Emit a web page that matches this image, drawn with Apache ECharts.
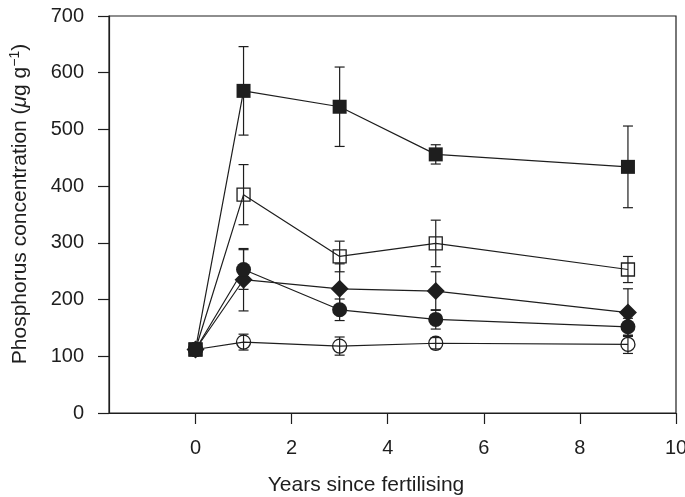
<!DOCTYPE html>
<html>
<head>
<meta charset="utf-8">
<title>Phosphorus concentration after fertilising</title>
<script src="https://cdn.jsdelivr.net/npm/echarts@6/dist/echarts.min.js"></script>
<style>
  html, body { margin: 0; padding: 0; background: #fff; }
  #chart { width: 685px; height: 497px; }
</style>
</head>
<body>
<div id="chart"></div>
<script>
// Years since fertilising at which soil P was sampled
const years = [0, 1, 3, 5, 9];

// Mean phosphorus concentration (µg g-1) per treatment, with ± error
const filledSquare    = [112, 568, 540, 456, 434];
const filledSquareErr = [0, 78, 70, 17, 72];
const openSquare      = [112, 385, 276, 299, 253];
const openSquareErr   = [0, 53, 27, 41, 23];
const filledDiamond    = [112, 235, 219, 215, 177];
const filledDiamondErr = [0, 55, 44, 34, 42];
const filledCircle    = [112, 253, 182, 165, 152];
const filledCircleErr = [0, 35, 19, 17, 15];
const openCircle      = [112, 125, 118, 123, 121];
const openCircleErr   = [0, 14, 16, 10, 16];

// Axis tick labels
const xTicks = [0, 2, 4, 6, 8, 10];
const yTicks = [0, 100, 200, 300, 400, 500, 600, 700];

const INK = '#1e1e1e';
const FONT = 'Liberation Sans, Arial, Helvetica, sans-serif';

const groups = [
  { name: 'Filled squares',  vals: filledSquare,  err: filledSquareErr,  symbol: 'rect',    size: 14, hollow: false },
  { name: 'Open squares',    vals: openSquare,    err: openSquareErr,    symbol: 'rect',    size: 13, hollow: true },
  { name: 'Open circles',    vals: openCircle,    err: openCircleErr,    symbol: 'circle',  size: 14, hollow: true },
  { name: 'Filled diamonds', vals: filledDiamond, err: filledDiamondErr, symbol: 'diamond', size: 18, hollow: false },
  { name: 'Filled circles',  vals: filledCircle,  err: filledCircleErr,  symbol: 'circle',  size: 15, hollow: false }
];

// vertical error bars with caps, placed through the axes' own coordinate system
function errorBar(params, api) {
  const x = api.value(0), y = api.value(1), e = api.value(2);
  if (!e) return null;
  const hi = api.coord([x, y + e]);
  const lo = api.coord([x, y - e]);
  const hw = 5;
  const st = { stroke: INK, lineWidth: 1.2 };
  return {
    type: 'group',
    children: [
      { type: 'line', shape: { x1: hi[0], y1: hi[1], x2: lo[0], y2: lo[1] }, style: st },
      { type: 'line', shape: { x1: hi[0] - hw, y1: hi[1], x2: hi[0] + hw, y2: hi[1] }, style: st },
      { type: 'line', shape: { x1: lo[0] - hw, y1: lo[1], x2: lo[0] + hw, y2: lo[1] }, style: st }
    ]
  };
}

const series = [];
groups.forEach(function (g) {
  series.push({
    name: g.name + ' error',
    type: 'custom',
    renderItem: errorBar,
    data: years.map(function (yr, i) { return [yr, g.vals[i], g.err[i]]; }),
    encode: { x: 0, y: 1 },
    z: 1,
    silent: true
  });
});
groups.forEach(function (g, k) {
  series.push({
    name: g.name,
    type: 'line',
    data: years.map(function (yr, i) { return [yr, g.vals[i]]; }),
    symbol: g.symbol,
    symbolSize: g.size,
    showAllSymbol: true,
    lineStyle: { color: INK, width: 1.2 },
    itemStyle: g.hollow
      ? { color: 'rgba(0,0,0,0)', borderColor: INK, borderWidth: 1.3 }
      : { color: INK, borderColor: INK, borderWidth: 0 },
    z: 2 + k,
    silent: true
  });
});

const chart = echarts.init(document.getElementById('chart'), null, { renderer: 'canvas' });
chart.setOption({
  animation: false,
  backgroundColor: '#fff',
  textStyle: { fontFamily: FONT },
  grid: {
    left: 109, right: 9, top: 16, bottom: 84,
    outerBoundsMode: 'none',
    containLabel: false,
    show: true, borderColor: INK, borderWidth: 1.2, backgroundColor: 'transparent'
  },
  xAxis: {
    type: 'value',
    min: -1.8,
    max: 10,
    axisLine: { show: true, onZero: false, lineStyle: { color: INK, width: 1.2 } },
    axisTick: { show: true, inside: false, length: 11, customValues: xTicks, lineStyle: { color: INK, width: 1.2 } },
    axisLabel: { customValues: xTicks, fontSize: 20, color: INK, margin: 25, fontFamily: FONT },
    splitLine: { show: false }
  },
  yAxis: {
    type: 'value',
    min: 0,
    max: 700,
    interval: 100,
    axisLine: { show: true, onZero: false, lineStyle: { color: INK, width: 1.2 } },
    axisTick: { show: true, inside: false, length: 11, customValues: yTicks, lineStyle: { color: INK, width: 1.2 } },
    axisLabel: { customValues: yTicks, fontSize: 20, color: INK, margin: 25, fontFamily: FONT },
    splitLine: { show: false }
  },
  graphic: [
    {
      type: 'text',
      x: 366, y: 485,
      style: {
        text: 'Years since fertilising',
        fill: INK, font: '21px ' + FONT,
        align: 'center', verticalAlign: 'middle'
      }
    },
    {
      type: 'text',
      x: 20, y: 204,
      rotation: Math.PI / 2,
      style: {
        text: 'Phosphorus concentration ({it|μ}g g{sup|−1})',
        fill: INK, font: '21px ' + FONT,
        align: 'center', verticalAlign: 'middle',
        rich: {
          it: { fontStyle: 'italic', fontSize: 21, fill: INK, fontFamily: FONT },
          sup: { fontSize: 14, fill: INK, fontFamily: FONT, verticalAlign: 'top', padding: [0, 0, 10, 0] }
        }
      }
    }
  ],
  series: series
});
</script>
</body>
</html>
